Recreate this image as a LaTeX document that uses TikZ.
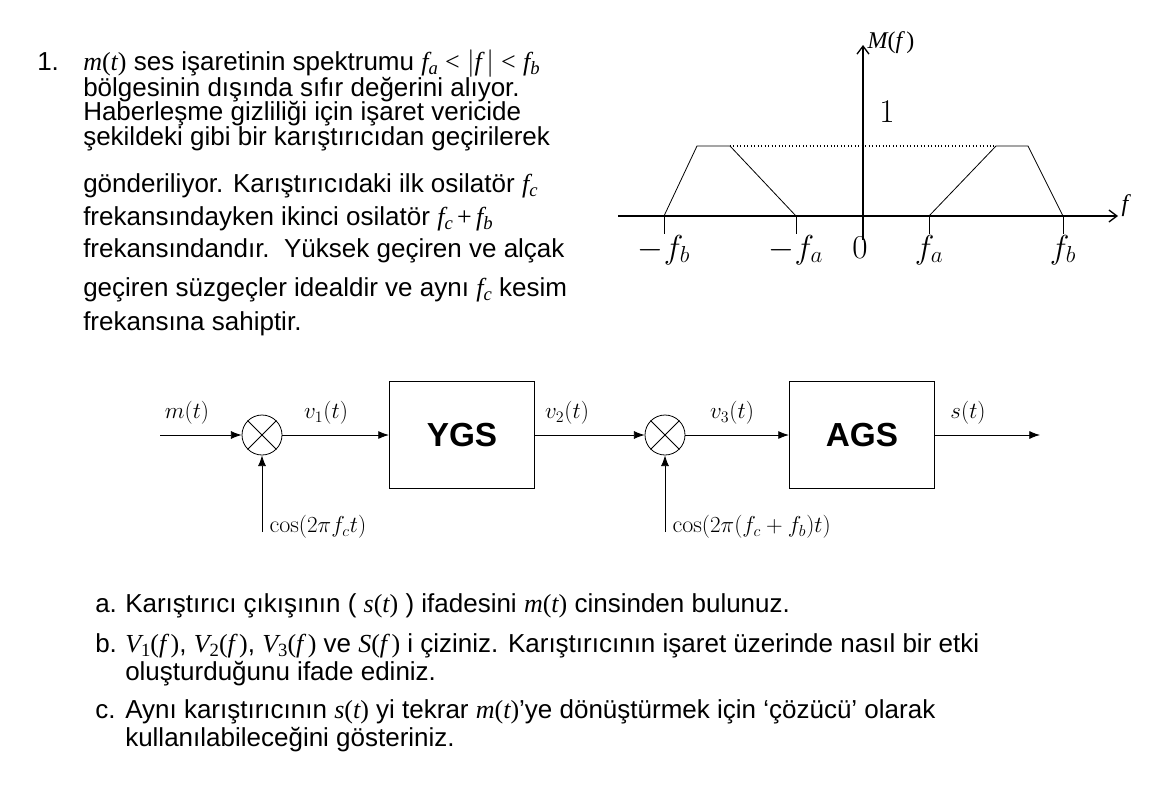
\documentclass[tikz,border=0pt]{standalone}
\usepackage{fontspec}
\setmainfont{Liberation Sans}
\newfontfamily\tms{Liberation Serif}
\newfontfamily\lmr{Latin Modern Roman}
\usetikzlibrary{arrows.meta}
\newcommand{\mi}[1]{{\tms\itshape #1}}
\newcommand{\mr}[1]{{\tms #1}}
\newcommand{\sbx}[1]{\raisebox{-0.35ex}{\fontsize{14}{16}\selectfont #1}}
\newcommand{\cosx}{\mbox{\lmr cos}}
\begin{document}
\begin{tikzpicture}[x=0.75pt,y=-0.75pt,
  txt/.style={anchor=base west,inner sep=0pt,font=\fontsize{19.5}{23}\selectfont},
  lbl/.style={inner sep=1pt,font=\fontsize{18}{21}\selectfont},
  big/.style={inner sep=1pt,font=\fontsize{24}{28}\selectfont},
  ln/.style={line width=0.6pt},
  sig/.style={ln,-{Latex[length=8pt,width=6pt]}},
  mix/.style={draw,circle,minimum size=30pt,inner sep=0pt,line width=0.6pt},
  blk/.style={draw,line width=0.6pt,minimum width=109pt,minimum height=80pt,font=\fontsize{25}{29}\selectfont\bfseries}]
\useasboundingbox (0,0) rectangle (1170,803);
% text
\node[txt] (n1) at (37,70) {1.};
\node[txt] (l1) at (83,70) {\mi{m}\mr{(}\mi{t}\mr{)} ses işaretinin spektrumu \mi{f}\sbx{\mi{a}} \mr{<} $\bigl|$\mi{f}\,$\bigr|$ \mr{<} \mi{f}\sbx{\mi{b}}};
\node[txt] (l2) at (83,96) {bölgesinin dışında sıfır değerini alıyor.};
\node[txt] (l3) at (83,120) {Haberleşme gizliliği için işaret vericide};
\node[txt] (l4) at (83,145) {şekildeki gibi bir karıştırıcıdan geçirilerek};
\node[txt] (l5) at (83,192) {gönderiliyor. Karıştırıcıdaki ilk osilatör \mi{f}\sbx{\mi{c}}};
\node[txt] (l6) at (83,225) {frekansındayken ikinci osilatör \mi{f}\sbx{\mi{c}}\,\mr{+}\,\mi{f}\sbx{\mi{b}}};
\node[txt] (l7) at (83,257) {frekansındandır.\ \ Yüksek geçiren ve alçak};
\node[txt] (l8) at (83,296) {geçiren süzgeçler idealdir ve aynı \mi{f}\sbx{\mi{c}} kesim};
\node[txt] (l9) at (83,330) {frekansına sahiptir.};
% spectrum
\coordinate (xa) at (618,216); \coordinate (xb) at (1118,216);
\coordinate (ya) at (863,240); \coordinate (yb) at (863,45);
\draw[line width=1pt,-{Straight Barb[length=6pt,width=9pt]}] (xa) -- (xb);
\draw[line width=1pt,-{Straight Barb[length=6pt,width=9pt]}] (ya) -- (yb);
\node[lbl,anchor=west] (Mf) at (866,43) {\mi{M}\mr{(}\mi{f}\,\mr{)}};
\node[lbl,anchor=west] (ff) at (1120,206) {\mi{f}};
\node[big] (one) at (887,112) {$1$};
\draw[ln] (664,216) -- (697,146) -- (730,146) -- (796,216);
\draw[ln] (929,216) -- (996,146) -- (1028,146) -- (1063,216);
\draw[ln,dotted,line width=0.9pt] (730,146) -- (996,146);
\foreach \x/\t/\n in {664/-f_b/t1,796/-f_a/t2,929/f_a/t3,1063/f_b/t4}{
  \draw[ln] (\x,216) -- (\x,234);
  \node[big,anchor=base] (\n) at (\x,258) {$\t$};}
\node[big,anchor=base] (t0) at (860,258) {$0$};
% block diagram
\coordinate (in) at (160,435);
\node[mix] (m1) at (262,435) {};
\draw[ln] (m1.45) -- (m1.225) (m1.135) -- (m1.315);
\node[blk] (ygs) at (462,435) {YGS};
\node[mix] (m2) at (665,435) {};
\draw[ln] (m2.45) -- (m2.225) (m2.135) -- (m2.315);
\node[blk] (ags) at (862,435) {AGS};
\coordinate (out) at (1040,435);
\coordinate (c1) at (262,532);
\coordinate (c2) at (665,532);
\draw[sig] (in) -- (m1);
\draw[sig] (m1) -- (ygs);
\draw[sig] (ygs) -- (m2);
\draw[sig] (m2) -- (ags);
\draw[sig] (ags) -- (out);
\draw[sig] (c1) -- (m1);
\draw[sig] (c2) -- (m2);
\node[lbl] (lm) at (187,413) {$m(t)$};
\node[lbl] (lv1) at (326,413) {$v_1(t)$};
\node[lbl] (lv2) at (567,413) {$v_2(t)$};
\node[lbl] (lv3) at (732,413) {$v_3(t)$};
\node[lbl] (ls) at (968,413) {$s(t)$};
\node[lbl,anchor=west] (lc1) at (268,527) {$\cosx(2\pi f_c t)$};
\node[lbl,anchor=west] (lc2) at (671,527) {$\cosx(2\pi(f_c+f_b)t)$};
% questions
\node[txt] (qa) at (95,612) {a.};
\node[txt] (ta) at (125,612) {Karıştırıcı çıkışının ( \mi{s}\mr{(}\mi{t}\mr{)} ) ifadesini \mi{m}\mr{(}\mi{t}\mr{)} cinsinden bulunuz.};
\node[txt] (qb) at (95,652) {b.};
\node[txt] (tb) at (125,652) {\mi{V}\sbx{\mr{1}}\mr{(}\mi{f}\,\mr{)}, \mi{V}\sbx{\mr{2}}\mr{(}\mi{f}\,\mr{)}, \mi{V}\sbx{\mr{3}}\mr{(}\mi{f}\,\mr{)} ve \mi{S}\mr{(}\mi{f}\,\mr{)} i çiziniz. Karıştırıcının işaret üzerinde nasıl bir etki};
\node[txt] (tb2) at (125,680) {oluşturduğunu ifade ediniz.};
\node[txt] (qc) at (95,718) {c.};
\node[txt] (tc) at (125,718) {Aynı karıştırıcının \mi{s}\mr{(}\mi{t}\mr{)} yi tekrar \mi{m}\mr{(}\mi{t}\mr{)}’ye dönüştürmek için ‘çözücü’ olarak};
\node[txt] (tc2) at (125,746) {kullanılabileceğini gösteriniz.};
\end{tikzpicture}
\end{document}
